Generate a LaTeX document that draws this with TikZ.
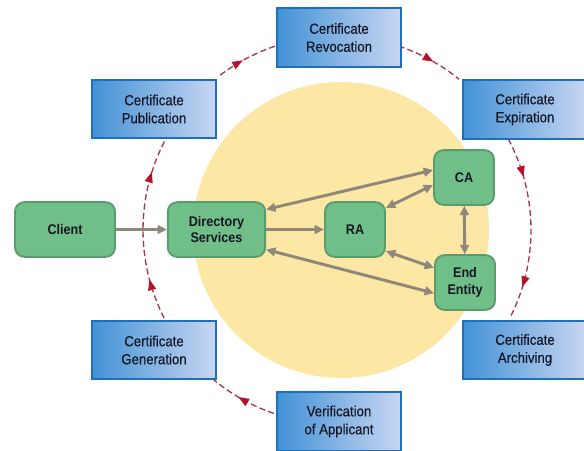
\documentclass[tikz,border=0pt]{standalone}
\usepackage{fontspec}
\setmainfont[FakeStretch=0.9]{Liberation Sans}
\newfontfamily\boxfont[FakeStretch=0.9,FakeBold=0.4]{Liberation Sans}
\usetikzlibrary{arrows.meta,decorations.markings,calc}
\definecolor{yellowc}{RGB}{253,231,165}
\definecolor{bdark}{RGB}{66,146,214}
\definecolor{blight}{RGB}{200,214,242}
\definecolor{bborder}{RGB}{30,112,184}
\definecolor{gfill}{RGB}{112,191,136}
\definecolor{gedge}{RGB}{90,156,110}
\definecolor{garr}{RGB}{142,136,122}
\definecolor{rdash}{RGB}{172,52,66}
\definecolor{rtip}{RGB}{182,16,42}
\definecolor{txt}{RGB}{20,22,36}
\begin{document}
\begin{tikzpicture}[x=0.75pt,y=-0.75pt,
  bluebox/.style={rectangle, draw=bborder, line width=1.5pt, left color=bdark, right color=blight,
    minimum width=93pt, minimum height=44pt, align=center, text=txt,
    font=\boxfont\fontsize{11}{13.5}\selectfont},
  greenbox/.style={rectangle, rounded corners=7pt, draw=gedge, line width=1.4pt, fill=gfill,
    minimum height=41pt, align=center, text=txt, font=\bfseries\fontsize{10.5}{12.5}\selectfont},
  garrow/.style={draw=garr, line width=2.2pt, -{Triangle[length=7pt,width=6.5pt]}},
  gdouble/.style={draw=garr, line width=2.2pt, {Triangle[length=7pt,width=6.5pt]}-{Triangle[length=7pt,width=6.5pt]}},
  redarc/.style={draw=rdash, line width=1pt, dash pattern=on 4.5pt off 2.5pt},
  redtip/.tip={Triangle[length=8pt,width=6pt,color=rtip,fill=rtip]},
  onetip/.style={postaction={decorate}, decoration={markings, mark=at position #1 with {\arrow{redtip}}}},
  twotips/.style 2 args={postaction={decorate}, decoration={markings,
      mark=at position #1 with {\arrow{redtip}},
      mark=at position #2 with {\arrow{redtip}}}}
]
\useasboundingbox (0,0) rectangle (584,450);

% yellow disc
\fill[yellowc] (341,230) circle[radius=148];

% green nodes
\node[greenbox, minimum width=75pt] (client) at (65,229.5) {Client};
\node[greenbox, minimum width=73pt] (dir) at (216.5,229.5) {Directory\\Services};
\node[greenbox, minimum width=45pt] (ra) at (355,229.5) {RA};
\node[greenbox, minimum width=45pt] (ca) at (464,177.5) {CA};
\node[greenbox, minimum width=45pt] (ee) at (465,282.5) {End\\Entity};

% grey connectors
\draw[garrow] (client) -- (dir);
\draw[garrow] (dir) -- (ra);
\draw[gdouble] (dir.22) -- ([yshift=5.6pt]ca.west);
\draw[gdouble] (dir.-22) -- ([yshift=-8pt]ee.west);
\draw[gdouble] (ra.35) -- ([yshift=-5.6pt]ca.west);
\draw[gdouble] (ra.-35) -- ([yshift=11pt]ee.west);
\draw[gdouble] (ca) -- (ee);

% red dashed lifecycle arcs
\coordinate (o) at (337,230);
\draw[redarc, onetip=0.42] (o) ++(-127:194) arc[start angle=-127, end angle=-108, radius=194];
\draw[redarc, onetip=0.55] (o) ++(-71.5:194) arc[start angle=-71.5, end angle=-51, radius=194];
\draw[redarc, twotips={0.22}{0.82}] (o) ++(-28:194) arc[start angle=-28, end angle=27, radius=194];
\draw[redarc, onetip=0.55] (o) ++(109:194) arc[start angle=109, end angle=130, radius=194];
\draw[redarc, twotips={0.22}{0.8}] (o) ++(153:194) arc[start angle=153, end angle=208.5, radius=194];

% blue lifecycle boxes
\node[bluebox] (rev) at (339,37.5) {Certificate\\Revocation};
\node[bluebox] (pub) at (154,109) {Certificate\\Publication};
\node[bluebox] (exp) at (525,109.5) {Certificate\\Expiration};
\node[bluebox] (gen) at (154,350) {Certificate\\Generation};
\node[bluebox] (arch) at (525,350) {Certificate\\Archiving};
\node[bluebox] (ver) at (339,421.5) {Verification\\of Applicant};
\end{tikzpicture}
\end{document}
